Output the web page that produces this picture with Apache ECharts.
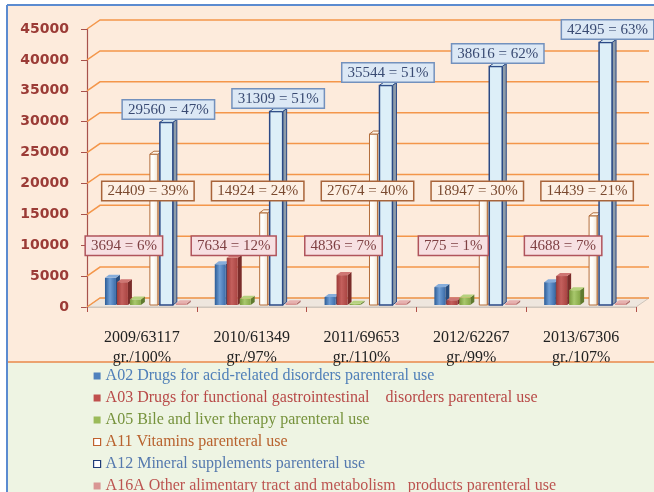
<!DOCTYPE html>
<html>
<head>
<meta charset="utf-8">
<style>
html, body { margin: 0; padding: 0; background: #fff; }
#chart { width: 654px; height: 492px; }
</style>
<script src="https://cdn.jsdelivr.net/npm/echarts@6/dist/echarts.min.js"></script>
</head>
<body>
<div id="chart"></div>
<script>
// data
var categories = ['2009/63117\ngr./100%', '2010/61349\ngr./97%', '2011/69653\ngr./110%', '2012/62267\ngr./99%', '2013/67306\ngr./107%'];
var seriesNames = [
    'A02 Drugs for acid-related disorders parenteral use',
    'A03 Drugs for functional gastrointestinal    disorders parenteral use',
    'A05 Bile and liver therapy parenteral use',
    'A11 Vitamins parenteral use',
    'A12 Mineral supplements parenteral use',
    'A16A Other alimentary tract and metabolism   products parenteral use'
];
var a02 = [4400, 6600, 1300, 2900, 3700];
var a03 = [3694, 7634, 4836, 775, 4688];
var a05 = [900, 1000, 200, 1200, 2400];
var a11 = [24409, 14924, 27674, 18947, 14439];
var a12 = [29560, 31309, 35544, 38616, 42495];
var a16a = [300, 300, 300, 300, 300];
var pctA03 = [6, 12, 7, 1, 7];
var pctA11 = [39, 24, 40, 30, 21];
var pctA12 = [47, 51, 51, 62, 63];
var yTicks = [0, 5000, 10000, 15000, 20000, 25000, 30000, 35000, 40000, 45000];

var allValues = [a02, a03, a05, a11, a12, a16a];

function grad(a, b, c) {
    return new echarts.graphic.LinearGradient(0, 0, 1, 0, [
        { offset: 0, color: a }, { offset: 0.45, color: b }, { offset: 1, color: c }
    ]);
}

// look of each 3d column
var barStyles = [
    { front: grad('#2C5C96', '#6E9DD4', '#3B6BA8'), side: '#284D7E', top: '#86ADDB' },
    { front: grad('#9E3A38', '#C4605D', '#A94442'), side: '#7A2C2A', top: '#CF7673' },
    { front: grad('#7A9A3E', '#A8C86C', '#86A848'), side: '#5F7A2E', top: '#B6D27E' },
    { front: grad('#FFFFFF', '#FFFDF8', '#F3E3CF'), side: '#E8D2B8', top: '#FFF6EA', stroke: '#B36E3C', lw: 1 },
    { front: '#DDEFF8', side: '#8F9CA8', top: '#D3E6F2', stroke: '#2B4A86', lw: 1.5 },
    { front: '#D99694', side: '#B06E6C', top: '#E7B1AF' }
];
var barOffset = [18, 30, 43, 63, 73, 89];
var barWidth = [11, 11, 11, 8, 13, 11];
var legendColors = ['#4F81BD', '#C0504D', '#9BBB59', '#C0622D', '#1F3C78', '#D99694'];
var legendText = ['#4F7FB8', '#B84A48', '#76923C', '#B8622E', '#5579AE', '#BC5450'];

var DX = 4, DY = 3;

function makeBarRender(k) {
    return function (params, api) {
        var band = api.size([1, 0])[0];
        var c = api.coord([api.value(0), 0]);
        var t = api.coord([api.value(0), api.value(1)]);
        var st = barStyles[k];
        var x = c[0] - band / 2 + band * barOffset[k] / 110;
        var w = band * barWidth[k] / 110;
        var y0 = c[1] - 2, y1 = t[1] - 2;
        return {
            type: 'group',
            children: [
                { type: 'polygon', shape: { points: [[x + w, y1], [x + w + DX, y1 - DY], [x + w + DX, y0 - DY], [x + w, y0]] },
                  style: { fill: st.side, stroke: st.stroke || null, lineWidth: st.stroke ? 1 : 0 } },
                { type: 'rect', shape: { x: x, y: y1, width: w, height: y0 - y1 },
                  style: { fill: st.front, stroke: st.stroke || null, lineWidth: st.lw || 0 } },
                { type: 'polygon', shape: { points: [[x, y1], [x + DX, y1 - DY], [x + w + DX, y1 - DY], [x + w, y1]] },
                  style: { fill: st.top, stroke: st.stroke || null, lineWidth: st.stroke ? 1 : 0 } }
            ]
        };
    };
}

function labelBox(text, cx, cy, vAlign, col, bg, border) {
    return {
        type: 'text', x: cx, y: cy,
        style: {
            text: text, align: 'center', verticalAlign: vAlign,
            font: '15px "Liberation Serif"', fill: col,
            backgroundColor: bg, borderColor: border, borderWidth: 1.5,
            padding: [2, 5, 1, 5]
        }
    };
}

// value boxes on top of the columns
function renderLabels(params, api) {
    var i = api.value(0);
    var cs = params.coordSys;
    var band = api.size([1, 0])[0];
    var c = api.coord([i, 0]);
    var t = api.coord([i, a12[i]]);
    var x12 = c[0] - band / 2 + band * barOffset[4] / 110;
    var w12 = band * barWidth[4] / 110;
    return {
        type: 'group',
        children: [
            labelBox(a12[i] + ' = ' + pctA12[i] + '%', x12 + (w12 + DX) / 2, t[1] - DY - 3, 'bottom', '#394A72', '#DCE8F5', '#7391BD'),
            labelBox(a11[i] + ' = ' + pctA11[i] + '%', c[0] + 6, cs.y + cs.height * 0.583, 'middle', '#7A4A30', '#FDF0E4', '#A8643A'),
            labelBox(a03[i] + ' = ' + pctA03[i] + '%', c[0] - 18, cs.y + cs.height * 0.78, 'middle', '#7E3F42', '#F7E0E2', '#B0545C')
        ]
    };
}

// back wall grid lines and floor
function renderWall(params, api) {
    var cs = params.coordSys;
    var y = api.coord([0, api.value(1)])[1];
    var x0 = cs.x, x1 = cs.x + cs.width;
    var children = [];
    if (api.value(1) === 0) {
        children.push({ type: 'polygon', shape: { points: [[x0, y], [x0 + 13, y - 9], [x1 + 13, y - 9], [x1, y]] },
            style: { fill: '#EEE6DE', stroke: '#CFC5BB', lineWidth: 1 } });
    }
    children.push({ type: 'polyline', shape: { points: [[x0, y], [x0 + 13, y - 9], [x1 + 13, y - 9]] },
        style: { stroke: '#F4964A', lineWidth: 1.5, fill: null } });
    return { type: 'group', children: children };
}

var series = [{
    type: 'custom', name: 'wall', z: 1, silent: true,
    renderItem: renderWall,
    data: yTicks.map(function (v) { return [0, v]; })
}];
allValues.forEach(function (vals, k) {
    series.push({
        type: 'custom', name: seriesNames[k], z: 3,
        renderItem: makeBarRender(k),
        itemStyle: { color: legendColors[k] },
        data: vals.map(function (v, i) { return [i, v]; })
    });
});
series.push({
    type: 'custom', name: 'labels', z: 10, silent: true,
    renderItem: renderLabels,
    data: categories.map(function (c, i) { return [i, 0]; })
});

var chart = echarts.init(document.getElementById('chart'));
chart.setOption({
    animation: false,
    backgroundColor: '#ffffff',
    graphic: [
        { type: 'rect', z: -10, shape: { x: 7, y: 5, width: 647, height: 357 }, style: { fill: '#FDEBDC' } },
        { type: 'rect', z: -10, shape: { x: 7, y: 362, width: 647, height: 130 }, style: { fill: '#EEF4E3' } },
        { type: 'line', z: -9, shape: { x1: 7, y1: 362, x2: 654, y2: 362 }, style: { stroke: '#E8884A', lineWidth: 1.5 } },
        { type: 'line', z: -9, shape: { x1: 7, y1: 5, x2: 654, y2: 5 }, style: { stroke: '#5B8BD0', lineWidth: 2 } },
        { type: 'line', z: -9, shape: { x1: 7, y1: 5, x2: 7, y2: 492 }, style: { stroke: '#5B8BD0', lineWidth: 2 } }
    ],
    grid: { left: 87, right: 18, top: 29, bottom: 185 },
    xAxis: {
        type: 'category',
        data: categories,
        axisLine: { lineStyle: { color: '#CFC5BB', width: 1 } },
        axisTick: { show: true, length: 5, lineStyle: { color: '#B0504A' } },
        axisLabel: { color: '#222', fontFamily: 'Liberation Serif', fontSize: 16, lineHeight: 20, margin: 21 },
        z: 5
    },
    yAxis: {
        type: 'value', min: 0, max: 45000, interval: 5000,
        splitLine: { show: false },
        axisLine: { show: true, lineStyle: { color: '#A8524C', width: 1.2 } },
        axisTick: { show: true, length: 6, lineStyle: { color: '#A8524C' } },
        axisLabel: {
            color: '#9B3B36', fontFamily: 'DejaVu Sans', fontWeight: 'bold', fontSize: 14, margin: 18,
            formatter: function (v) { return String(v); }
        }
    },
    legend: {
        orient: 'vertical', left: 93, top: 368, height: 140, padding: 0,
        itemWidth: 7, itemHeight: 7, itemGap: 6,
        icon: 'rect',
        textStyle: { fontFamily: 'Liberation Serif', fontSize: 16, lineHeight: 16 },
        data: seriesNames.map(function (n, k) {
            var hollow = (k === 3 || k === 4);
            return {
                name: n,
                icon: 'rect',
                itemStyle: hollow ? { color: '#ffffff', borderColor: legendColors[k], borderWidth: 1.2 } : { color: legendColors[k] },
                textStyle: { color: legendText[k] }
            };
        })
    },
    series: series
});
</script>
</body>
</html>
